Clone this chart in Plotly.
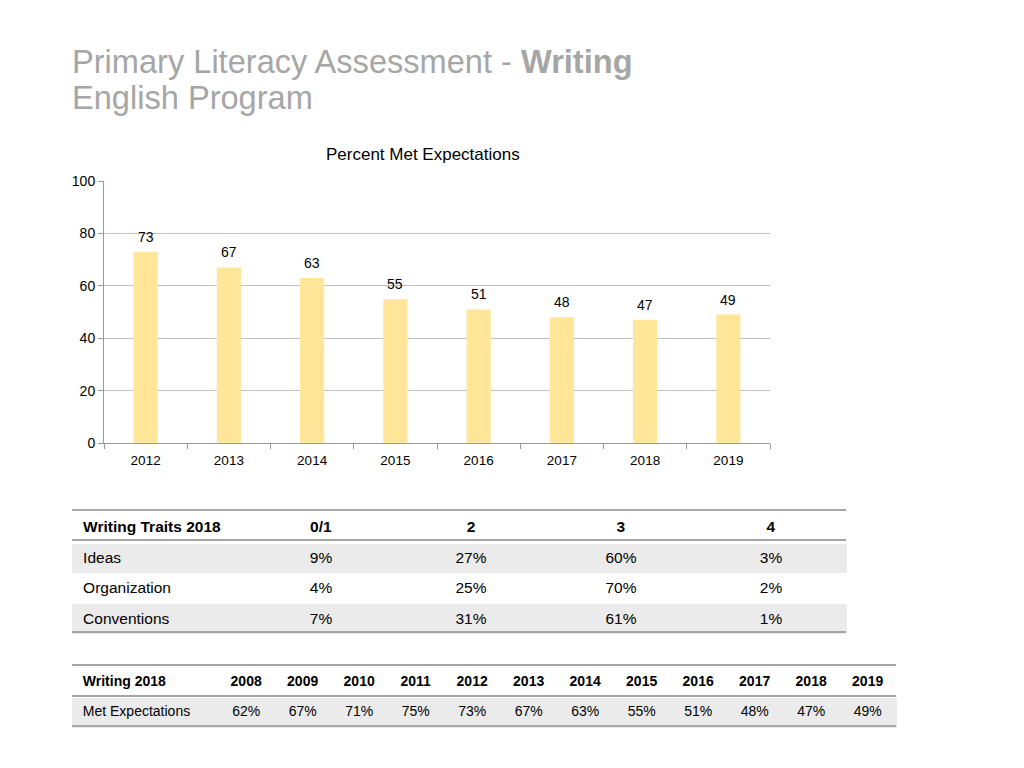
import plotly.graph_objects as go

W, H = 1024, 768

# ---- data ----
chart_years = ["2012", "2013", "2014", "2015", "2016", "2017", "2018", "2019"]
chart_values = [73, 67, 63, 55, 51, 48, 47, 49]

traits_header = ["Writing Traits 2018", "0/1", "2", "3", "4"]
trait_names = ["Ideas", "Organization", "Conventions"]
score_01 = [9, 4, 7]
score_2 = [27, 25, 31]
score_3 = [60, 70, 61]
score_4 = [3, 2, 1]

trend_label = "Writing 2018"
trend_row = "Met Expectations"
trend_years = ["2008", "2009", "2010", "2011", "2012", "2013", "2014", "2015", "2016", "2017", "2018", "2019"]
trend_values = [62, 67, 71, 75, 73, 67, 63, 55, 51, 48, 47, 49]

FONT = "Liberation Sans, Arial, sans-serif"
BAR = "#FFE699"
GRID = "#C0C0C0"
RULE = "#A6A6A6"
ROWFILL = "#EBEBEB"
PAD = "\u2009"  # small indent for left-aligned table labels

def px(x):
    return x / W

def py(y):
    return 1 - y / H

fig = go.Figure()

fig.add_trace(go.Bar(
    x=chart_years, y=chart_values, marker=dict(color=BAR, line=dict(width=0)),
    width=0.29, xaxis="x", yaxis="y", showlegend=False, hoverinfo="x+y",
))

# data labels (x given as category index)
annotations = []
for i, v in enumerate(chart_values):
    annotations.append(dict(x=i, y=v, xref="x", yref="y", text=str(v), showarrow=False,
                            yshift=15, font=dict(family=FONT, size=14, color="#000000")))

# titles
annotations.append(dict(x=px(70), y=py(62), xref="paper", yref="paper", xanchor="left", yanchor="middle",
                        text="Primary Literacy Assessment - <b>Writing</b>", showarrow=False,
                        font=dict(family=FONT, size=32.6, color="#A6A6A6")))
annotations.append(dict(x=px(70), y=py(97), xref="paper", yref="paper", xanchor="left", yanchor="middle",
                        text="English Program", showarrow=False,
                        font=dict(family=FONT, size=32.6, color="#A6A6A6")))
annotations.append(dict(x=px(423), y=py(154), xref="paper", yref="paper", xanchor="center", yanchor="middle",
                        text="Percent Met Expectations", showarrow=False,
                        font=dict(family=FONT, size=17, color="#000000")))

# ---- table 1 ----
pct = lambda arr: [f"{v}%" for v in arr]
fills1 = [ROWFILL, "white", ROWFILL]
T1_TOP, T1_HH, T1_RH = 510, 30, 30.67
fig.add_trace(go.Table(
    domain=dict(x=[px(72), px(846)], y=[py(T1_TOP + T1_HH + 3 * T1_RH + 2), py(T1_TOP)]),
    columnwidth=[174, 150, 150, 150, 150],
    header=dict(values=[PAD + "<b>" + traits_header[0] + "</b>"] + [f"<b>{h}</b>" for h in traits_header[1:]],
                height=T1_HH,
                fill=dict(color="white"), line=dict(color="white", width=1),
                align=["left", "center", "center", "center", "center"],
                font=dict(family=FONT, size=15.5, color="#000000")),
    cells=dict(values=[[PAD + n for n in trait_names], pct(score_01), pct(score_2), pct(score_3), pct(score_4)],
               height=T1_RH, fill=dict(color=[fills1] * 5), line=dict(color=[fills1] * 5, width=1),
               align=["left", "center", "center", "center", "center"],
               font=dict(family=FONT, size=15.5, color="#000000")),
))

# ---- table 2 ----
T2_TOP, T2_HH, T2_RH = 665, 31, 30
fig.add_trace(go.Table(
    domain=dict(x=[px(72), px(896)], y=[py(T2_TOP + T2_HH + T2_RH + 2), py(T2_TOP)]),
    columnwidth=[146] + [56.5] * len(trend_years),
    header=dict(values=[PAD + f"<b>{trend_label}</b>"] + [f"<b>{y}</b>" for y in trend_years], height=T2_HH,
                fill=dict(color="white"), line=dict(color="white", width=1),
                align=["left"] + ["center"] * len(trend_years),
                font=dict(family=FONT, size=14, color="#000000")),
    cells=dict(values=[[PAD + trend_row]] + [[f"{v}%"] for v in trend_values], height=T2_RH,
               fill=dict(color=ROWFILL), line=dict(color=ROWFILL, width=1),
               align=["left"] + ["center"] * len(trend_years),
               font=dict(family=FONT, size=14, color="#000000")),
))

shapes = []
for y in [T1_TOP, T1_TOP + T1_HH, T1_TOP + T1_HH + 3 * T1_RH]:
    shapes.append(dict(type="line", xref="paper", yref="paper", x0=px(72), x1=px(846), y0=py(y), y1=py(y),
                       line=dict(color=RULE, width=2)))
for y in [T2_TOP, T2_TOP + T2_HH, T2_TOP + T2_HH + T2_RH]:
    shapes.append(dict(type="line", xref="paper", yref="paper", x0=px(72), x1=px(896), y0=py(y), y1=py(y),
                       line=dict(color=RULE, width=2)))

fig.update_layout(
    width=W, height=H, autosize=False,
    margin=dict(l=0, r=0, t=0, b=0, pad=0, autoexpand=False),
    paper_bgcolor="white", plot_bgcolor="white",
    font=dict(family=FONT, size=13, color="#000000"),
    annotations=annotations, shapes=shapes, showlegend=False,
    xaxis=dict(domain=[px(104), px(770)], anchor="y", type="category", tickson="boundaries",
               range=[-0.5, len(chart_years) - 0.5], automargin=False,
               ticks="outside", ticklen=5, tickcolor="#9A9A9A", showline=True, linecolor="#9A9A9A",
               linewidth=1, showgrid=False, tickangle=0, ticklabelstandoff=5,
               tickfont=dict(family=FONT, size=13.5, color="#000000")),
    yaxis=dict(domain=[py(443), py(181)], anchor="x", range=[0, 100], dtick=20, ticks="outside",
               automargin=False,
               ticklen=5, tickcolor="#9A9A9A", showline=True, linecolor="#9A9A9A", linewidth=1,
               gridcolor=GRID, gridwidth=1, zeroline=False,
               tickfont=dict(family=FONT, size=14, color="#000000")),
)

fig.write_html("out.html", config={"displayModeBar": False},
               post_script="document.body.style.margin='0';document.body.style.overflow='hidden';")
